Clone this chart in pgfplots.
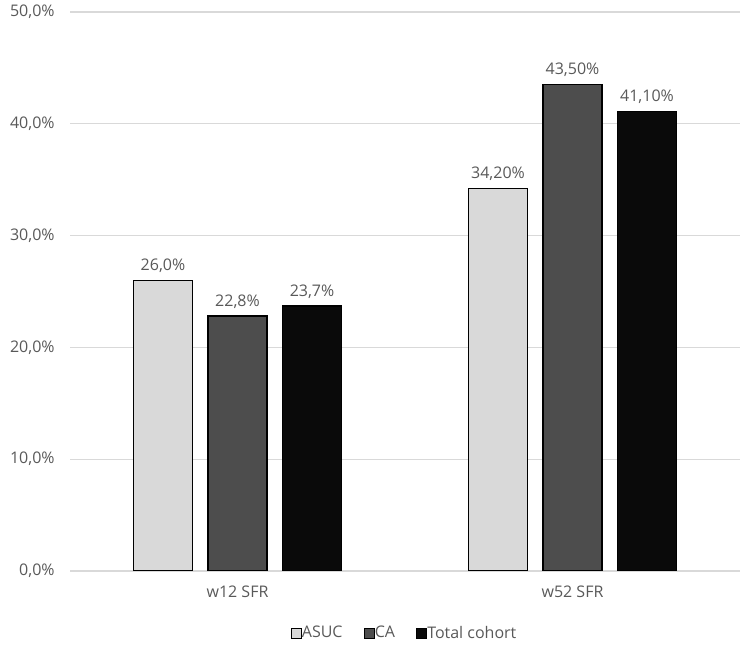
\documentclass[border=0pt]{standalone}
\usepackage{fontspec}
\setmainfont{Open Sans}
\usepackage{pgfplots}
\pgfplotsset{compat=1.18}
\definecolor{TxtGray}{HTML}{595959}
\definecolor{GridGray}{HTML}{D9D9D9}
\definecolor{BarLight}{HTML}{D9D9D9}
\definecolor{BarDark}{HTML}{4D4D4D}
\definecolor{BarBlack}{HTML}{0A0A0A}

\begin{document}
\begin{tikzpicture}
\useasboundingbox (0,0) rectangle (562.5pt,489.75pt);
\begin{axis}[
  at={(52.5pt,61.5pt)}, anchor=south west,
  scale only axis,
  width=502.5pt, height=419.25pt,
  xmin=-0.5, xmax=1.5,
  ymin=0, ymax=50,
  ytick={0,10,...,50},
  yticklabels={{0,0\%},{10,0\%},{20,0\%},{30,0\%},{40,0\%},{50,0\%}},
  xtick={0,1},
  xticklabels={w12 SFR, w52 SFR},
  major tick length=0pt,
  axis x line*=bottom,
  axis y line*=left,
  x axis line style={draw=GridGray, line width=0.9pt, -},
  y axis line style={draw=none},
  ymajorgrids,
  grid style={draw=GridGray, line width=0.9pt},
  font=\fontsize{12}{14}\selectfont,
  tick label style={text=TxtGray, font=\fontsize{12}{14}\selectfont},
  yticklabel style={xshift=-8pt},
  xticklabel style={yshift=-8pt},
  ybar,
  bar width=44.25pt,
  point meta=explicit symbolic,
  nodes near coords,
  nodes near coords style={text=TxtGray, anchor=south, yshift=2pt, font=\fontsize{12}{14}\selectfont},
  legend style={draw=none, fill=none, at={(0.5,0)}, anchor=center, yshift=-46.5pt,
    font=\fontsize{12}{14}\selectfont, text=TxtGray,
    /tikz/every odd column/.append style={column sep=-2pt},
    /tikz/every even column/.append style={column sep=14pt}},
  legend columns=3,
  legend image code/.code={\draw[#1, line width=0.6pt] (0pt,-3.8pt) rectangle (7.6pt,3.8pt);},
  every axis plot/.append style={draw=black, line width=1.1pt},
]
\addplot[fill=BarLight, bar shift=-55.9pt] coordinates {(0,26.0) [{26,0\%}] (1,34.2) [{34,20\%}]};
\addlegendentry{ASUC}
\addplot[fill=BarDark, bar shift=0pt] coordinates {(0,22.8) [{22,8\%}] (1,43.5) [{43,50\%}]};
\addlegendentry{CA}
\addplot[fill=BarBlack, bar shift=55.9pt] coordinates {(0,23.7) [{23,7\%}] (1,41.1) [{41,10\%}]};
\addlegendentry{Total cohort}
\end{axis}
\end{tikzpicture}
\end{document}
